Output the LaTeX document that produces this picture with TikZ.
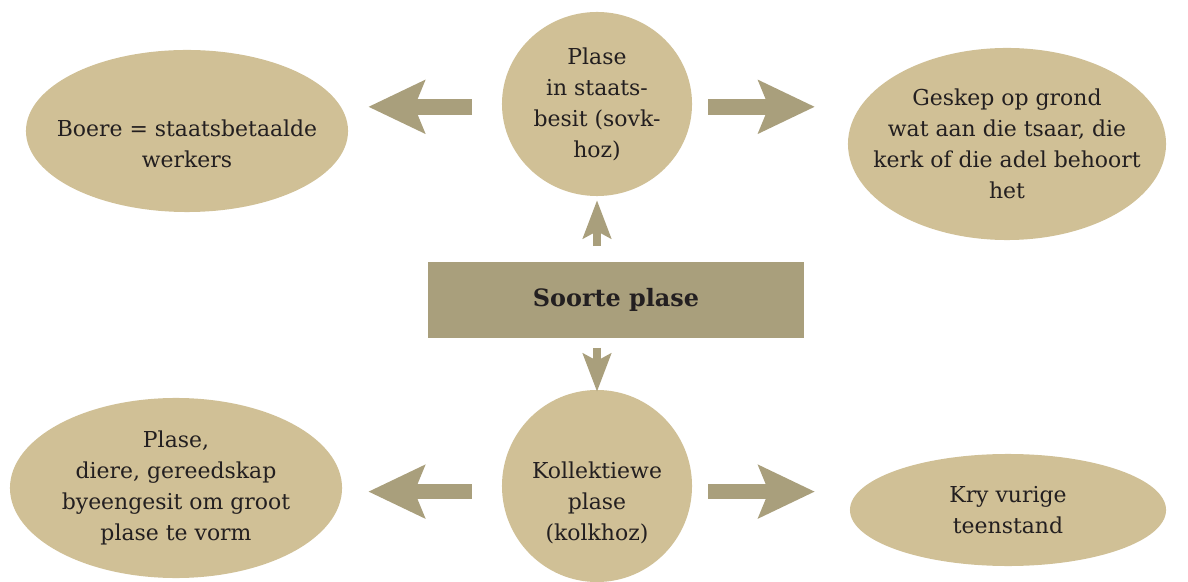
\documentclass[tikz,border=0pt]{standalone}
\usepackage{fontspec}
\setmainfont{DejaVu Serif}
\usetikzlibrary{shapes.geometric,arrows.meta}
\definecolor{plaas}{HTML}{D0C096}
\definecolor{donker}{HTML}{A99F7C}
\definecolor{teks}{HTML}{231F20}
\tikzset{
	blob/.style={ellipse,fill=plaas,inner xsep=-2cm,inner ysep=-1cm,align=center,text=teks,
		font=\fontsize{15.6}{22}\selectfont},
	wyser/.style={draw=donker,line width=11pt,
		-{Stealth[length=1.4cm,width=1.3cm,inset=0.25cm]}},
	klein/.style={draw=donker,line width=5pt,
		-{Stealth[length=0.95cm,width=0.7cm,inset=0.18cm]}}
}
\begin{document}
\begin{tikzpicture}[x=0.025cm,y=-0.025cm]
\useasboundingbox (0,0) rectangle (1188,582);

\node (soorte) at (616,300) [fill=donker,minimum width=9.4cm,minimum height=1.875cm,
	text=teks,font=\bfseries\fontsize{17}{22}\selectfont] {Soorte plase};

\node (sovkhoz) at (597,104) [blob,minimum width=4.75cm,minimum height=4.6cm]
	{Plase\\in staats-\\besit (sovk-\\hoz)};
\node (boere) at (187,131) [blob,minimum width=8.05cm,minimum height=4.05cm]
	{\\[8pt]Boere = staatsbetaalde\\werkers};
\node (geskep) at (1007,144) [blob,minimum width=7.95cm,minimum height=4.8cm]
	{Geskep op grond\\wat aan die tsaar, die\\kerk of die adel behoort\\het};

\node (kolkhoz) at (597,486) [blob,minimum width=4.75cm,minimum height=4.8cm]
	{\\[13.5pt]Kollektiewe\\plase\\(kolkhoz)};
\node (saam) at (176,488) [blob,minimum width=8.3cm,minimum height=4.5cm]
	{Plase,\\diere, gereedskap\\byeengesit om groot\\plase te vorm};
\node (teenstand) at (1008,510) [blob,minimum width=7.9cm,minimum height=2.8cm]
	{Kry vurige\\teenstand};

\draw[wyser,shorten <=0.75cm,shorten >=0.5cm] ([yshift=-2]sovkhoz.west) -- ([yshift=-2]sovkhoz.west -| boere.east);
\draw[wyser,shorten <=0.4cm,shorten >=0.82cm] ([yshift=-2]sovkhoz.east) -- ([yshift=-2]sovkhoz.east -| geskep.west);
\draw[klein,shorten <=0.4cm,shorten >=0.1cm] (sovkhoz.south |- soorte.north) -- (sovkhoz.south);
\draw[klein,shorten <=0.25cm,shorten >=-0.05cm] (kolkhoz.north |- soorte.south) -- (kolkhoz.north);
\draw[wyser,shorten <=0.75cm,shorten >=0.65cm] ([yshift=-4]kolkhoz.west) -- ([yshift=-4]kolkhoz.west -| saam.east);
\draw[wyser,shorten <=0.4cm,shorten >=0.87cm] ([yshift=-4]kolkhoz.east) -- ([yshift=-4]kolkhoz.east -| teenstand.west);

\end{tikzpicture}
\end{document}
